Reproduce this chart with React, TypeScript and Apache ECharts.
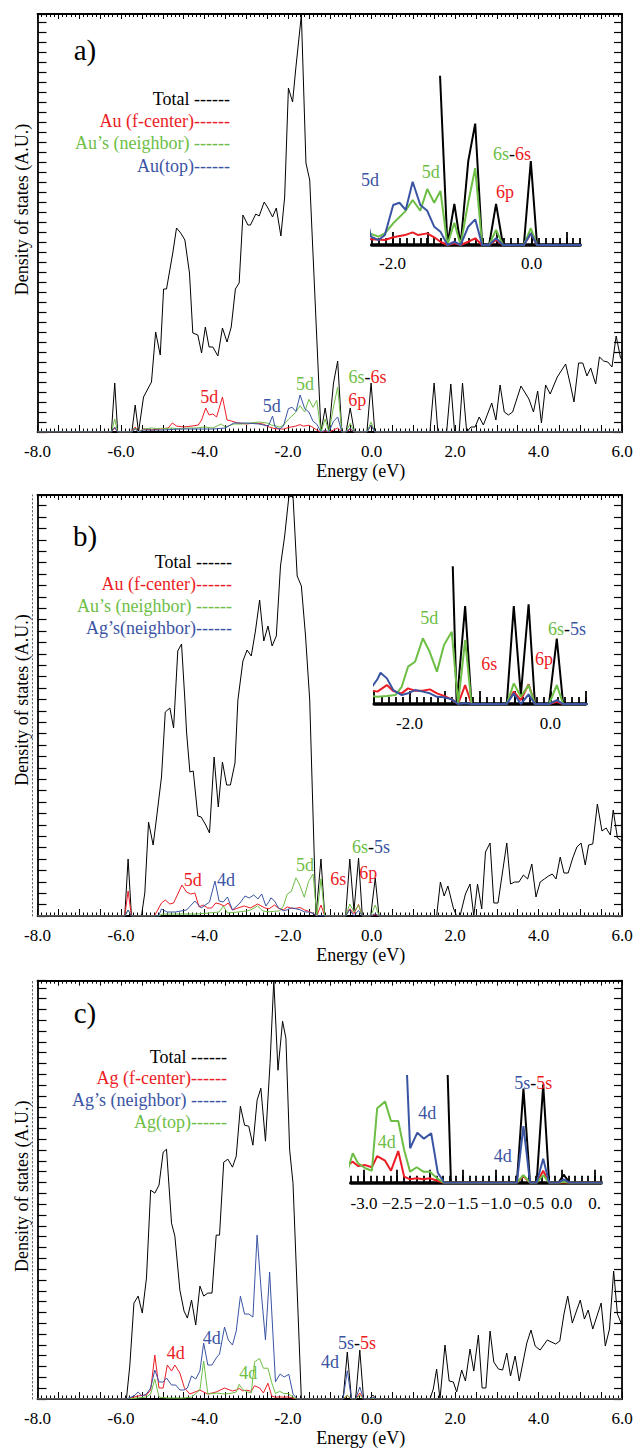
import React, { useEffect, useRef } from "react";
import * as echarts from "echarts";

const FONT = "Liberation Serif, Times New Roman, Times, serif";
const RED = "#ec1c24";
const GREEN = "#6dbe45";
const BLUE = "#3a54a4";
const BLACK = "#000000";

// ---------- tick labels ----------
const mainTickValues = [-8, -6, -4, -2, 0, 2, 4, 6];
const mainTickLabels = ["-8.0", "-6.0", "-4.0", "-2.0", "0.0", "2.0", "4.0", "6.0"];
const insetABTickValues = [-2, 0];
const insetABTickLabels = ["-2.0", "0.0"];
const insetCTickValues = [-3, -2.5, -2, -1.5, -1, -0.5, 0, 0.5];
const insetCTickLabels = ["-3.0", "\u22122.5", "\u22122.0", "\u22121.5", "\u22121.0", "\u22120.5", "0.0", "0."];

// ---------- panel a: Au f-center ----------
const aTotal = [[-8,0],[-6.23,0],[-6.15,4.9],[-6.08,0],[-5.74,0],[-5.66,2.7],[-5.58,0],[-5.46,3.5],[-5.27,5.0],[-5.17,10.0],[-5.06,7.7],[-4.98,14.3],[-4.91,14.3],[-4.76,17.9],[-4.67,20.4],[-4.57,19.9],[-4.47,19.2],[-4.36,15.9],[-4.28,9.9],[-4.16,9.7],[-4.07,7.9],[-3.98,10.5],[-3.89,8.5],[-3.8,8.5],[-3.68,7.6],[-3.57,10.4],[-3.46,9.0],[-3.36,10.5],[-3.26,14.3],[-3.17,14.9],[-3.08,21.7],[-2.96,20.7],[-2.9,20.7],[-2.77,21.8],[-2.69,21.6],[-2.57,23.0],[-2.48,22.4],[-2.37,21.5],[-2.28,22.4],[-2.17,19.6],[-2.08,23.5],[-1.99,34.4],[-1.89,33.0],[-1.81,36.5],[-1.68,41.7],[-1.57,26.9],[-1.48,25.2],[-1.21,0],[-1.11,2.4],[-1.02,0],[-0.91,4.9],[-0.81,7.1],[-0.71,0],[-0.61,0],[-0.51,2.4],[-0.41,0],[-0.11,0],[-0.01,4.9],[0.08,0],[1.4,0],[1.5,4.9],[1.59,0],[1.8,0],[1.9,4.8],[1.99,0],[2.1,0],[2.18,4.9],[2.28,0],[2.38,0.5],[2.48,0.5],[2.58,1.5],[2.68,0.7],[2.88,2.9],[2.98,1.2],[3.08,4.7],[3.18,2.0],[3.28,1.7],[3.38,2.0],[3.58,4.6],[3.77,3.3],[3.88,2.0],[3.98,4.1],[4.07,0.9],[4.17,4.7],[4.28,3.8],[4.45,5.5],[4.65,6.8],[4.76,4.8],[4.85,3.0],[4.96,6.9],[5.06,6.9],[5.16,5.6],[5.25,6.4],[5.37,4.8],[5.46,7.5],[5.56,7.1],[5.66,7.0],[5.76,6.5],[5.86,9.6],[5.96,7.5],[6,7.2]];
const aCenter = [[-8,0],[-6.23,0],[-6.15,0.4],[-6.08,0],[-5.74,0],[-5.66,0.5],[-5.58,0],[-5.46,0.3],[-5.27,0.2],[-5.06,0.3],[-4.87,0.4],[-4.77,0.9],[-4.67,0.6],[-4.5,0.5],[-4.3,0.6],[-4.15,0.7],[-4.07,1.2],[-3.97,2.4],[-3.89,1.7],[-3.8,1.8],[-3.71,1.5],[-3.57,3.5],[-3.46,1.2],[-3.36,1.1],[-3.2,0.9],[-3.0,0.8],[-2.8,0.9],[-2.6,0.8],[-2.45,0.5],[-2.31,0.33],[-2.11,0.29],[-1.99,0.45],[-1.82,0.58],[-1.71,0.74],[-1.63,0.58],[-1.5,0.68],[-1.4,0.45],[-1.31,0.19],[-1.21,0],[-1.11,0.1],[-1.02,0],[-0.91,0.19],[-0.81,0.39],[-0.71,0],[-0.61,0],[-0.51,0.29],[-0.41,0],[-0.11,0],[-0.01,0.68],[0.08,0],[6,0]];
const aNeighbor = [[-8,0],[-6.23,0],[-6.15,1.3],[-6.08,0],[-5.74,0],[-5.66,0.4],[-5.58,0],[-5.46,0.3],[-5.27,0.4],[-5.06,0.3],[-4.8,0.4],[-4.6,0.3],[-4.4,0.4],[-4.2,0.4],[-4.0,0.5],[-3.8,0.4],[-3.6,0.8],[-3.5,0.5],[-3.3,0.8],[-3.1,0.8],[-2.9,0.9],[-2.7,1.0],[-2.5,0.9],[-2.4,0.7],[-2.31,0.64],[-2.2,0.49],[-2.11,0.68],[-1.99,1.27],[-1.82,1.95],[-1.71,2.63],[-1.6,2.0],[-1.5,3.27],[-1.4,2.47],[-1.31,3.16],[-1.21,0],[-1.11,1.3],[-1.02,0],[-0.91,2.5],[-0.81,4.49],[-0.71,0],[-0.61,0],[-0.51,0.88],[-0.41,0],[-0.11,0],[-0.01,0.98],[0.08,0],[6,0]];
const aTop = [[-8,0],[-6.23,0],[-6.15,0.5],[-6.08,0],[-5.74,0],[-5.66,0.3],[-5.58,0],[-5.46,0.2],[-5.0,0.2],[-4.6,0.3],[-4.2,0.3],[-3.8,0.3],[-3.5,0.4],[-3.3,0.9],[-3.0,0.9],[-2.7,0.8],[-2.47,0.6],[-2.37,1.6],[-2.31,0.49],[-2.2,0.29],[-2.11,0.58],[-1.99,2.34],[-1.9,2.47],[-1.81,2.05],[-1.71,3.7],[-1.6,2.34],[-1.5,2.0],[-1.4,1.07],[-1.31,0.78],[-1.21,0],[-1.11,0.19],[-1.02,0],[-0.91,1.07],[-0.81,1.5],[-0.71,0],[-0.61,0],[-0.51,0.39],[-0.41,0],[-0.11,0],[-0.01,0.68],[0.08,0],[6,0]];

// ---------- panel b: Au f-center with Ag neighbours ----------
const bTotal = [[-8,0],[-5.91,0],[-5.83,5.7],[-5.75,0],[-5.51,0],[-5.43,2.3],[-5.34,9.4],[-5.23,7.1],[-5.14,10.1],[-5.03,13.9],[-4.94,20.4],[-4.83,20.8],[-4.74,18.8],[-4.64,26.5],[-4.55,27.2],[-4.47,21.6],[-4.43,18.4],[-4.35,14.4],[-4.27,14.5],[-4.16,10.0],[-4.08,9.9],[-3.97,9.1],[-3.88,8.3],[-3.77,15.9],[-3.67,10.9],[-3.57,15.4],[-3.47,13.1],[-3.38,13.1],[-3.27,15.3],[-3.2,21.6],[-3.08,25.5],[-2.98,26.6],[-2.88,26.0],[-2.78,28.5],[-2.68,31.6],[-2.58,27.5],[-2.48,29.0],[-2.38,27.0],[-2.28,28.0],[-2.18,35.0],[-2.08,38.0],[-1.98,41.9],[-1.88,42.0],[-1.78,34.0],[-1.68,33.0],[-1.58,28.0],[-1.48,21.6],[-1.33,0],[-1.21,5.7],[-1.12,0],[-0.62,0],[-0.52,5.7],[-0.42,0.5],[-0.31,5.8],[-0.22,0],[-0.02,0],[0.09,3.8],[0.18,0],[1.56,0],[1.65,3.4],[1.74,2.0],[1.83,3.0],[1.96,0.8],[2.04,0],[2.12,0],[2.25,2.2],[2.36,3.2],[2.45,0],[2.54,3.2],[2.64,0.7],[2.73,6.4],[2.84,7.3],[2.93,1.3],[3.03,1.3],[3.24,7.3],[3.33,3.2],[3.43,3.4],[3.53,3.4],[3.64,4.1],[3.74,3.7],[3.84,5.2],[3.94,1.9],[4.04,3.4],[4.14,3.7],[4.24,4.0],[4.33,4.2],[4.42,3.7],[4.52,5.9],[4.61,4.3],[4.71,4.3],[4.82,5.8],[4.92,6.9],[5.02,7.3],[5.12,5.1],[5.2,7.1],[5.3,7.2],[5.41,11.2],[5.52,8.5],[5.62,8.8],[5.72,8.1],[5.79,10.6],[5.89,7.8],[6,7.5]];
const bCenter = [[-8,0],[-5.91,0],[-5.83,2.5],[-5.75,0],[-5.2,0],[-5.03,1.3],[-4.94,1.6],[-4.83,1.2],[-4.74,1.3],[-4.54,3.1],[-4.43,2.4],[-4.33,2.2],[-4.23,2.3],[-4.13,0.9],[-4.03,1.1],[-3.93,0.8],[-3.83,0.8],[-3.73,1.3],[-3.63,1.2],[-3.53,1.0],[-3.43,1.3],[-3.33,0.6],[-3.2,0.8],[-3.05,1.0],[-2.9,0.8],[-2.73,1.2],[-2.55,0.8],[-2.455,0.72],[-2.32,1.1],[-2.23,0.76],[-2.11,0.62],[-2.02,0.91],[-1.92,0.77],[-1.81,0.77],[-1.71,0.85],[-1.61,0.62],[-1.51,0.47],[-1.4,0.27],[-1.31,0],[-1.21,1.1],[-1.12,0],[-0.62,0],[-0.52,0.72],[-0.42,0.23],[-0.31,1.15],[-0.22,0],[-0.02,0],[0.09,0.13],[0.18,0],[6,0]];
const bNeighbor = [[-8,0],[-5.91,0],[-5.83,0.6],[-5.75,0],[-5.1,0],[-5.0,0.2],[-4.6,0.2],[-4.2,0.2],[-3.9,0.3],[-3.65,0.4],[-3.55,1.0],[-3.45,0.3],[-3.2,0.4],[-3.0,0.5],[-2.9,0.6],[-2.73,1.0],[-2.6,0.5],[-2.455,0.42],[-2.32,0.47],[-2.2,0.52],[-2.11,1.0],[-2.02,2.17],[-1.92,2.46],[-1.81,3.82],[-1.72,3.1],[-1.61,1.88],[-1.51,3.43],[-1.4,4.2],[-1.31,0],[-1.21,3.72],[-1.12,0],[-0.62,0],[-0.52,1.2],[-0.42,0.42],[-0.31,1.1],[-0.22,0],[-0.02,0],[0.09,1.1],[0.18,0],[6,0]];
const bAgNeighbor = [[-8,0],[-5.91,0],[-5.83,0.6],[-5.75,0],[-5.1,0],[-5.03,0.7],[-4.9,0.4],[-4.7,0.4],[-4.43,0.6],[-4.23,1.5],[-4.08,0.8],[-3.88,1.4],[-3.75,3.5],[-3.65,1.5],[-3.55,1.4],[-3.45,1.9],[-3.33,0.6],[-3.15,1.3],[-3.03,2.0],[-2.93,1.8],[-2.82,2.1],[-2.72,1.7],[-2.63,2.2],[-2.53,1.0],[-2.455,1.44],[-2.41,1.82],[-2.32,1.49],[-2.23,0.81],[-2.11,0.52],[-2.02,0.62],[-1.92,0.81],[-1.81,0.72],[-1.71,0.62],[-1.61,0.42],[-1.51,0.39],[-1.4,0.27],[-1.31,0],[-1.21,0.04],[-1.12,0],[-0.62,0],[-0.52,0.62],[-0.42,0],[-0.31,0.56],[-0.22,0],[-0.02,0],[0.09,0.23],[0.18,0],[6,0]];

// ---------- panel c: Ag f-center ----------
const cTotal = [[-8,0],[-5.87,0],[-5.79,3.3],[-5.69,9.6],[-5.59,10.3],[-5.49,8.6],[-5.39,12.1],[-5.29,20.9],[-5.19,20.6],[-5.09,21.4],[-4.99,24.7],[-4.91,25.0],[-4.79,17.6],[-4.71,16.3],[-4.59,10.9],[-4.49,8.8],[-4.41,8.1],[-4.31,9.9],[-4.21,7.4],[-4.11,11.3],[-4.02,10.3],[-3.92,10.6],[-3.82,10.6],[-3.72,16.4],[-3.64,16.4],[-3.54,23.7],[-3.44,24.0],[-3.33,23.2],[-3.24,24.3],[-3.14,29.3],[-3.04,27.4],[-2.94,27.3],[-2.84,25.4],[-2.74,29.9],[-2.65,31.1],[-2.54,25.8],[-2.43,33.6],[-2.34,41.9],[-2.24,32.9],[-2.13,37.8],[-2.05,36.1],[-1.96,24.9],[-1.88,21.6],[-1.68,0],[-0.68,0],[-0.58,4.7],[-0.48,0],[-0.38,0],[-0.28,4.9],[-0.19,0],[-0.05,0],[0.03,0.4],[0.12,0],[1.4,0],[1.48,1.0],[1.56,3.0],[1.64,0],[1.76,5.4],[1.86,1.8],[1.96,1.7],[2.04,0.7],[2.16,2.9],[2.25,1.8],[2.36,5.0],[2.45,2.8],[2.56,6.4],[2.65,1.1],[2.74,1.1],[2.84,6.8],[2.93,3.7],[3.04,3.0],[3.14,2.9],[3.24,4.6],[3.33,2.3],[3.44,4.3],[3.54,1.8],[3.72,5.6],[3.82,6.9],[3.92,5.3],[4.04,4.9],[4.21,5.9],[4.41,5.5],[4.51,5.8],[4.61,8.5],[4.7,10.3],[4.81,7.6],[5.0,9.9],[5.1,8.0],[5.19,8.9],[5.3,7.0],[5.5,9.6],[5.6,5.3],[5.7,7.0],[5.8,12.8],[5.89,8.5],[6,7.4]];
const cCenter = [[-8,0],[-5.87,0],[-5.6,0.3],[-5.39,0.4],[-5.29,0.9],[-5.19,4.4],[-5.09,1.1],[-4.99,1.1],[-4.89,3.4],[-4.79,2.8],[-4.71,3.4],[-4.59,2.6],[-4.48,1.1],[-4.35,0.5],[-4.11,0.9],[-4.02,0.7],[-3.92,0.5],[-3.72,0.7],[-3.52,1.1],[-3.33,0.8],[-3.24,0.9],[-3.17,1.05],[-3.09,0.83],[-2.98,0.88],[-2.88,0.77],[-2.8,1.33],[-2.68,1.1],[-2.59,0.6],[-2.48,1.58],[-2.39,0.3],[-2.3,0.17],[-2.2,0.22],[-2.1,0.17],[-2.0,0.22],[-1.89,0.1],[-1.79,0],[-0.68,0],[-0.58,0.33],[-0.48,0],[-0.38,0],[-0.28,0.6],[-0.19,0],[6,0]];
const cNeighbor = [[-8,0],[-5.87,0],[-5.69,0.3],[-5.59,0.7],[-5.49,0.3],[-5.39,0.5],[-5.29,1.1],[-5.19,2.9],[-5.09,1.7],[-4.99,1.7],[-4.91,2.1],[-4.79,1.4],[-4.69,1.4],[-4.59,0.9],[-4.49,0.9],[-4.41,1.1],[-4.31,2.3],[-4.21,2.0],[-4.11,2.8],[-4.02,5.6],[-3.92,3.4],[-3.82,3.4],[-3.72,4.1],[-3.64,4.5],[-3.52,7.2],[-3.43,5.9],[-3.33,5.4],[-3.24,6.8],[-3.14,10.3],[-3.04,8.5],[-2.94,8.5],[-2.84,8.2],[-2.74,16.4],[-2.64,10.7],[-2.54,5.9],[-2.44,12.7],[-2.3,1.72],[-2.19,2.5],[-2.09,2.2],[-1.98,2.47],[-1.88,0.5],[-1.78,0],[-0.68,0],[-0.58,2.83],[-0.48,0],[-0.38,0],[-0.28,1.2],[-0.19,0],[-0.05,0],[0.03,0.17],[0.12,0],[6,0]];
const cTop = [[-8,0],[-5.87,0],[-5.6,0.1],[-5.39,0.2],[-5.29,0.5],[-5.19,2.0],[-5.09,0.2],[-4.9,0.1],[-4.5,0.1],[-4.31,0.2],[-4.11,0.9],[-4.02,3.8],[-3.92,0.5],[-3.72,0.6],[-3.52,0.5],[-3.33,0.6],[-3.24,0.7],[-3.17,1.47],[-3.09,0.97],[-2.98,0.72],[-2.88,0.6],[-2.8,3.72],[-2.68,4.05],[-2.59,3.08],[-2.48,3.08],[-2.39,1.63],[-2.3,0.55],[-2.2,0.77],[-2.1,0.55],[-2.0,0.55],[-1.89,0.22],[-1.79,0],[-0.68,0],[-0.58,0.38],[-0.48,0],[-0.38,0],[-0.28,0.38],[-0.19,0],[-0.05,0],[0.03,0.05],[0.12,0],[6,0]];

// ---------- legends ----------
const legendA = [["Total ------", BLACK], ["Au (f-center)------", RED], ["Au\u2019s (neighbor) ------", GREEN], ["Au(top)------", BLUE]];
const legendB = [["Total ------", BLACK], ["Au (f-center)------", RED], ["Au\u2019s (neighbor) ------", GREEN], ["Ag\u2019s(neighbor)------", BLUE]];
const legendC = [["Total ------", BLACK], ["Ag (f-center)------", RED], ["Ag\u2019s (neighbor) ------", BLUE], ["Ag(top)------", GREEN]];

const MAIN_LEFT = 37.5;
const MAIN_WIDTH = 584.5;

type Ann = { x: number; y: number; parts: [string, string][]; size?: number };

const panels = [
  {
    letter: "a)", letterY: 50, top: 14, height: 418, ymax: 41.8, yInt: 1.0, dotted: false, nameShift: 27,
    legend: legendA, legendRight: 230, legendY: 99, legendStep: 22.2,
    series: [
      { name: "Total", data: aTotal, color: BLACK },
      { name: "Au (f-center)", data: aCenter, color: RED },
      { name: "Au\u2019s (neighbor)", data: aNeighbor, color: GREEN },
      { name: "Au(top)", data: aTop, color: BLUE },
    ],
    inset: { left: 371.65, width: 208.5, top: 76.7, height: 168.3, min: -2.3, max: 0.7, ymax: 9.84,
      tallMin: -2.0, tallMax: 0.5, tallLeft: 392.5, tallWidth: 173.75, vals: insetABTickValues, labels: insetABTickLabels, margin: 10 },
    ann: [
      { x: 209.3, y: 396.7, parts: [["5d", RED]] },
      { x: 271.7, y: 405.7, parts: [["5d", BLUE]] },
      { x: 305, y: 384, parts: [["5d", GREEN]] },
      { x: 367.5, y: 376.7, parts: [["6s", GREEN], ["-", BLACK], ["6s", RED]] },
      { x: 357.3, y: 400, parts: [["6p", RED]] },
      { x: 370, y: 180, parts: [["5d", BLUE]] },
      { x: 430.7, y: 171.7, parts: [["5d", GREEN]] },
      { x: 512, y: 154.3, parts: [["6s", GREEN], ["-", BLACK], ["6s", RED]] },
      { x: 505, y: 191.7, parts: [["6p", RED]] },
    ] as Ann[],
  },
  {
    letter: "b)", letterY: 536, top: 495, height: 421, ymax: 42.1, yInt: 1.14, dotted: true, nameShift: 11,
    legend: legendB, legendRight: 232, legendY: 562, legendStep: 22,
    series: [
      { name: "Total", data: bTotal, color: BLACK },
      { name: "Au (f-center)", data: bCenter, color: RED },
      { name: "Au\u2019s (neighbor)", data: bNeighbor, color: GREEN },
      { name: "Ag\u2019s(neighbor)", data: bAgNeighbor, color: BLUE },
    ],
    inset: { left: 374.2, width: 211.5, top: 567.3, height: 136.7, min: -2.5, max: 0.5, ymax: 7.95,
      tallMin: -2.5, tallMax: 0.5, tallLeft: 374.2, tallWidth: 211.5, vals: insetABTickValues, labels: insetABTickLabels, margin: 11 },
    ann: [
      { x: 192.7, y: 880, parts: [["5d", RED]] },
      { x: 226, y: 880, parts: [["4d", BLUE]] },
      { x: 305, y: 865, parts: [["5d", GREEN]] },
      { x: 338.3, y: 879.3, parts: [["6s", RED]] },
      { x: 368.3, y: 872.7, parts: [["6p", RED]] },
      { x: 371, y: 847.3, parts: [["6s", GREEN], ["-", BLACK], ["5s", BLUE]] },
      { x: 429.3, y: 618.3, parts: [["5d", GREEN]] },
      { x: 489.3, y: 664, parts: [["6s", RED]] },
      { x: 567, y: 629.3, parts: [["6s", GREEN], ["-", BLACK], ["5s", BLUE]] },
      { x: 544, y: 659.3, parts: [["6p", RED]] },
    ] as Ann[],
  },
  {
    letter: "c)", letterY: 1013, top: 980.7, height: 418.6, ymax: 41.86, yInt: 1.083, dotted: true, nameShift: 7,
    legend: legendC, legendRight: 227, legendY: 1056.7, legendStep: 21.7,
    series: [
      { name: "Total", data: cTotal, color: BLACK },
      { name: "Ag (f-center)", data: cCenter, color: RED },
      { name: "Ag(top)", data: cTop, color: GREEN },
      { name: "Ag\u2019s (neighbor)", data: cNeighbor, color: BLUE },
    ],
    inset: { left: 350.8, width: 250.4, top: 1076, height: 106.7, min: -3.2, max: 0.6, ymax: 5.33,
      tallMin: -3.0, tallMax: 0.5, tallLeft: 364, tallWidth: 230.65, vals: insetCTickValues, labels: insetCTickLabels, margin: 12 },
    ann: [
      { x: 175.7, y: 1352.7, parts: [["4d", RED]] },
      { x: 211.7, y: 1338.3, parts: [["4d", BLUE]] },
      { x: 248.3, y: 1373.3, parts: [["4d", GREEN]] },
      { x: 330, y: 1361.7, parts: [["4d", BLUE]] },
      { x: 357, y: 1342.7, parts: [["5s", BLUE], ["-", BLACK], ["5s", RED]] },
      { x: 427.3, y: 1113.3, parts: [["4d", BLUE]] },
      { x: 386.7, y: 1141.7, parts: [["4d", GREEN]] },
      { x: 533.3, y: 1082.7, parts: [["5s", BLUE], ["-", BLACK], ["5s", RED]] },
      { x: 502.7, y: 1156, parts: [["4d", BLUE]] },
    ] as Ann[],
  },
];

function labelFor(vals: number[], labels: string[]) {
  return (v: number) => {
    const i = vals.findIndex((t) => Math.abs(t - v) < 1e-6);
    return i >= 0 ? labels[i] : "";
  };
}

function textEl(x: number, y: number, parts: [string, string][], size: number, align: string) {
  const rich: any = {};
  parts.forEach((p, i) => {
    rich["s" + i] = { fill: p[1], color: p[1], fontSize: size, fontFamily: FONT };
  });
  const text = parts.map((p, i) => "{s" + i + "|" + p[0] + "}").join("");
  return {
    type: "text", x, y, silent: true, z: 100,
    style: {
      text, rich, fill: parts[0][1], fontSize: size, fontFamily: FONT,
      textAlign: align, textVerticalAlign: "middle", align, verticalAlign: "middle",
    },
  };
}

function buildOption() {
  const grid: any[] = [];
  const xAxis: any[] = [];
  const yAxis: any[] = [];
  const series: any[] = [];
  const graphic: any[] = [];
  const tickStyle = { fontFamily: FONT, fontSize: 17, color: BLACK };
  const titleStyle = { fontFamily: FONT, fontSize: 18, color: BLACK };

  panels.forEach((p) => {
    const gMain = grid.length;
    grid.push({ left: MAIN_LEFT, top: p.top, width: MAIN_WIDTH, height: p.height });
    const xMain = xAxis.length;
    xAxis.push({
      type: "value", gridIndex: gMain, min: -8, max: 6, interval: 0.5, position: "bottom",
      axisLine: { show: true, onZero: false, lineStyle: { color: BLACK, width: 1.8 } },
      axisTick: { show: true, inside: true, length: 7, lineStyle: { color: BLACK, width: 1 } },
      minorTick: { show: true, splitNumber: 5, length: 3.5, lineStyle: { color: BLACK, width: 1 } },
      splitLine: { show: false }, minorSplitLine: { show: false },
      axisLabel: { ...tickStyle, margin: 11, formatter: labelFor(mainTickValues, mainTickLabels), showMinLabel: true, showMaxLabel: true, hideOverlap: false },
      name: "Energy (eV)", nameLocation: "middle", nameGap: 30,
      nameTextStyle: { ...titleStyle, padding: [0, 0, 0, 62] },
    });
    xAxis.push({
      type: "value", gridIndex: gMain, min: -8, max: 6, interval: 0.5, position: "top",
      axisLine: { show: true, onZero: false, lineStyle: { color: BLACK, width: 1.8 } },
      axisTick: { show: true, inside: true, length: 5, lineStyle: { color: BLACK, width: 1 } },
      minorTick: { show: true, splitNumber: 5, length: 3, lineStyle: { color: BLACK, width: 1 } },
      splitLine: { show: false }, axisLabel: { show: false },
    });
    const yMain = yAxis.length;
    yAxis.push({
      type: "value", gridIndex: gMain, min: 0, max: p.ymax, interval: p.yInt, position: "left",
      axisLine: { show: true, onZero: false, lineStyle: { color: BLACK, width: 1.8 } },
      axisTick: { show: true, inside: true, length: 9, lineStyle: { color: BLACK, width: 1.2 } },
      axisLabel: { show: false }, splitLine: { show: false },
      name: "Density of states (A.U.)", nameLocation: "middle", nameGap: 7,
      nameTextStyle: { ...titleStyle, padding: [0, 0, 0, p.nameShift] },
    });
    yAxis.push({
      type: "value", gridIndex: gMain, min: 0, max: p.ymax, interval: p.yInt, position: "right",
      axisLine: { show: true, onZero: false, lineStyle: { color: BLACK, width: 1.8 } },
      axisTick: { show: true, inside: true, length: 8, lineStyle: { color: BLACK, width: 1.2 } },
      axisLabel: { show: false }, splitLine: { show: false },
    });
    if (p.dotted) {
      yAxis.push({
        type: "value", gridIndex: gMain, min: 0, max: p.ymax, position: "left", offset: 5,
        axisLine: { show: true, onZero: false, lineStyle: { color: "#666", width: 1, type: [1.5, 2.5] } },
        axisTick: { show: false }, axisLabel: { show: false }, splitLine: { show: false },
      });
    }
    p.series.forEach((s, i) => {
      series.push({
        type: "line", name: s.name, xAxisIndex: xMain, yAxisIndex: yMain, data: s.data,
        symbol: "none", showSymbol: false, clip: true, silent: true, z: 2 + i,
        lineStyle: { color: s.color, width: 1 }, itemStyle: { color: s.color },
      });
    });

    const ins = p.inset;
    const gIn = grid.length;
    grid.push({ left: ins.left, top: ins.top, width: ins.width, height: ins.height });
    const xIn = xAxis.length;
    xAxis.push({
      type: "value", gridIndex: gIn, min: ins.min, max: ins.max, interval: 0.1, position: "bottom",
      axisLine: { show: true, onZero: false, lineStyle: { color: BLACK, width: 3.5 } },
      axisTick: { show: true, inside: true, length: 7, lineStyle: { color: BLACK, width: 1.8 } },
      axisLabel: { show: false }, splitLine: { show: false },
    });
    const yIn = yAxis.length;
    yAxis.push({ type: "value", gridIndex: gIn, min: 0, max: ins.ymax, show: false, splitLine: { show: false } });
    p.series.forEach((s, i) => {
      series.push({
        type: "line", name: s.name, xAxisIndex: xIn, yAxisIndex: yIn, data: s.data,
        symbol: "none", showSymbol: false, clip: true, silent: true, z: 10 + i,
        lineStyle: { color: s.color, width: 2 }, itemStyle: { color: s.color },
      });
    });
    const gTall = grid.length;
    grid.push({ left: ins.tallLeft, top: ins.top, width: ins.tallWidth, height: ins.height });
    xAxis.push({
      type: "value", gridIndex: gTall, min: ins.tallMin, max: ins.tallMax, interval: 0.5, position: "bottom",
      axisLine: { show: false, onZero: false },
      axisTick: { show: true, inside: true, length: 13, lineStyle: { color: BLACK, width: 1.8 } },
      axisLabel: { ...tickStyle, margin: ins.margin, formatter: labelFor(ins.vals, ins.labels), showMinLabel: true, showMaxLabel: true, hideOverlap: false },
      splitLine: { show: false },
    });
    yAxis.push({ type: "value", gridIndex: gTall, min: 0, max: 1, show: false, splitLine: { show: false } });

    graphic.push(textEl(85, p.letterY, [[p.letter, BLACK]], 29, "center"));
    p.legend.forEach((l, i) => {
      graphic.push(textEl(p.legendRight, p.legendY + i * p.legendStep, [[l[0], l[1]]], 18, "right"));
    });
    p.ann.forEach((a) => graphic.push(textEl(a.x, a.y, a.parts, a.size || 18, "center")));
  });

  return {
    animation: false,
    backgroundColor: "#ffffff",
    textStyle: { fontFamily: FONT },
    grid, xAxis, yAxis, series, graphic,
  };
}

export default function App() {
  const ref = useRef<HTMLDivElement>(null);
  useEffect(() => {
    document.body.style.margin = "0";
    const chart = echarts.init(ref.current as HTMLDivElement, undefined, { renderer: "svg" });
    chart.setOption(buildOption() as any);
    return () => chart.dispose();
  }, []);
  return (
    <div
      ref={ref}
      style={{ position: "absolute", left: 0, top: 0, width: 638, height: 1448, background: "#ffffff" }}
    />
  );
}
